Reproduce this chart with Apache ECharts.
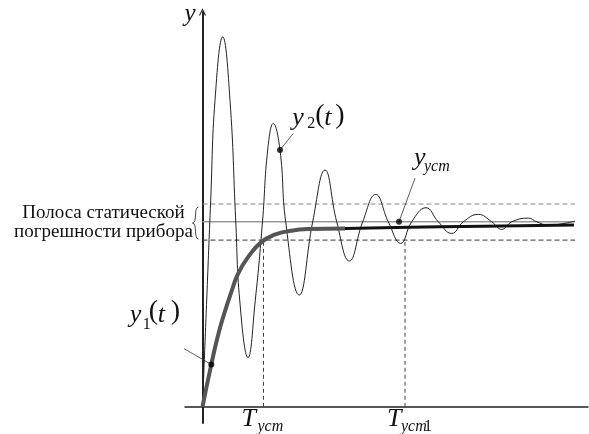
<!DOCTYPE html>
<html>
<head>
<meta charset="utf-8">
<script src="https://cdn.jsdelivr.net/npm/echarts@6/dist/echarts.min.js"></script>
<style>
  html, body { margin: 0; padding: 0; background: #fff; }
  #chart { width: 589px; height: 434px; }
</style>
</head>
<body>
<div id="chart"></div>
<script>
// y1(t) - aperiodic response (grey part, then black tail)
const y1T = [0, 0.176, 0.31, 0.444, 0.576, 0.71, 0.91, 1.176, 1.444, 1.776, 2.11, 2.85];
const y1V = [0, 0.229, 0.386, 0.512, 0.62, 0.719, 0.809, 0.89, 0.93, 0.952, 0.961, 0.964];
const y1TailT = [2.85, 4.75, 7.43];
const y1TailV = [0.964, 0.973, 0.982];

// y2(t) - damped oscillation
const y2T = [0, 0.084, 0.164, 0.25, 0.404, 0.55, 0.664, 0.744, 0.91, 1.056, 1.2, 1.304, 1.416, 1.55, 1.664,
  1.934, 2.204, 2.45, 2.684, 2.936, 3.204, 3.464, 3.716, 3.964, 4.184, 4.47, 4.716, 4.984, 5.216,
  5.516, 5.784, 5.984, 6.184, 6.516, 6.684, 6.91, 7.45];
const y2V = [0, 0.577, 1.117, 1.657, 2.0, 1.657, 1.009, 0.577, 0.266, 0.577, 1.0, 1.388, 1.532, 1.388, 1.0,
  0.604, 1.0, 1.28, 1.0, 0.788, 1.0, 1.148, 1.0, 0.883, 1.0, 1.076, 1.0, 0.937, 1.0,
  1.04, 1.0, 0.959, 1.0, 1.02, 1.0, 0.982, 1.004];

// steady value and error band
const ySteady = 1.0;
const bandTop = 1.096;
const bandBottom = 0.901;
const levelEnd = 7.45;

// settling times
const tUst = 1.22;
const tUst1 = 4.05;

// leader lines: [dot, label end]
const y1Dot = [0.176, 0.229], y1Tag = [-0.916, 0.40];
const y2Dot = [1.55, 1.388], y2Tag = [1.816, 1.478];
const ySsDot = [3.93, 1.0], ySsTag = [4.25, 1.236];

const zip = (a, b) => a.map((v, i) => [v, b[i]]);
const ital = s => 'italic ' + s + 'px "Liberation Serif"';
const roman = s => s + 'px "Liberation Serif"';

const chart = echarts.init(document.getElementById('chart'));

const thin = (data, color, width, type) => ({
    type: 'line',
    data: data,
    symbol: 'none',
    silent: true,
    clip: false,
    lineStyle: { color: color, width: width, type: type || 'solid' },
    z: 2
});

const option = {
    animation: false,
    backgroundColor: '#fff',
    grid: { left: 185, right: 1, top: 12, bottom: 11 },
    xAxis: {
        type: 'value',
        min: -0.35,
        max: 7.71,
        axisLine: { onZero: true, lineStyle: { color: '#222', width: 1.5 } },
        axisTick: { show: false },
        axisLabel: { show: false },
        splitLine: { show: false }
    },
    yAxis: {
        type: 'value',
        min: -0.0876,
        max: 2.134,
        axisLine: {
            onZero: true,
            symbol: ['none', 'path://M0,10L5,0L10,10L8.6,10.6L5,3L1.4,10.6Z'],
            symbolSize: [7, 10],
            lineStyle: { color: '#222', width: 2 }
        },
        axisTick: { show: false },
        axisLabel: { show: false },
        splitLine: { show: false }
    },
    series: [
        thin([[0, bandTop], [levelEnd, bandTop]], '#888', 1, [5, 3]),
        thin([[0, bandBottom], [levelEnd, bandBottom]], '#333', 1, [5, 3]),
        thin([[0, ySteady], [levelEnd, ySteady]], '#999', 1.6),
        thin([[tUst, 0], [tUst, bandBottom]], '#444', 1, [4, 3]),
        thin([[tUst1, 0], [tUst1, bandBottom]], '#444', 1, [4, 3]),
        {
            type: 'line', data: zip(y2T, y2V), smooth: 0.45, symbol: 'none', silent: true,
            lineStyle: { color: '#222', width: 1 }, z: 3
        },
        {
            type: 'line', data: zip(y1T, y1V), smooth: 0.5, symbol: 'none', silent: true,
            lineStyle: { color: '#555', width: 4 }, z: 4
        },
        {
            type: 'line', data: zip(y1TailT, y1TailV), smooth: 0.4, symbol: 'none', silent: true,
            lineStyle: { color: '#111', width: 3 }, z: 4
        },
        thin([y1Dot, y1Tag], '#333', 0.8),
        thin([y2Dot, y2Tag], '#333', 0.8),
        thin([ySsDot, ySsTag], '#333', 0.8),
        {
            type: 'scatter', data: [y1Dot, y2Dot, ySsDot], symbolSize: 6, silent: true,
            itemStyle: { color: '#000' }, z: 5
        }
    ]
};

chart.setOption(option);

// annotations, placed relative to points mapped by the chart's scales
const px = p => chart.convertToPixel({ gridIndex: 0 }, p);
const graphics = [];
const put = (anchor, parts) => {
    const a = px(anchor);
    parts.forEach(([text, font, dx, dy]) => {
        graphics.push({
            type: 'text', x: a[0] + dx, y: a[1] + dy, silent: true,
            style: { text: text, font: font, fill: '#111', align: 'left', verticalAlign: 'middle' }
        });
    });
};

put([0, 2.134], [['y', ital(25), -18, 2]]);
put(y2Tag, [['y', ital(26), -1, -15], ['2', roman(16), 14, -10], ['(', roman(28), 22, -18],
    ['t', ital(26), 31, -15], [')', roman(28), 42, -18]]);
put(y1Tag, [['y', ital(26), -27, -18], ['1', roman(16), -14, -8], ['(', roman(28), -8, -21],
    ['t', ital(26), 1, -18], [')', roman(28), 14, -21]]);
put(ySsTag, [['y', ital(26), -1, -20], ['уст', ital(16), 9, -11]]);
put([tUst, 0], [['T', ital(26), -22, 12], ['уст', ital(16), -6, 20]]);
put([tUst1, 0], [['T', ital(26), -18, 12], ['уст', ital(16), -4, 20], ['1', roman(16), 19, 20]]);

// band caption with brace
const mid = px([0, ySteady]);
graphics.push({
    type: 'text', x: mid[0] - 99, y: mid[1] + 1, silent: true,
    style: {
        text: 'Полоса статической\nпогрешности прибора', font: roman(19), lineHeight: 19,
        fill: '#111', align: 'center', verticalAlign: 'middle'
    }
});
const bTop = px([0, bandTop]), bBot = px([0, bandBottom]);
const bx = bTop[0] - 10, by = bTop[1] + 3, h = bBot[1] - bTop[1] - 4;
graphics.push({
    type: 'bezierCurve', silent: true,
    shape: { x1: bx + 6, y1: by, cpx1: bx + 1, cpy1: by, cpx2: bx + 5, cpy2: by + h / 2, x2: bx, y2: by + h / 2 },
    style: { fill: 'none', stroke: '#444', lineWidth: 1 }
});
graphics.push({
    type: 'bezierCurve', silent: true,
    shape: { x1: bx, y1: by + h / 2, cpx1: bx + 5, cpy1: by + h / 2, cpx2: bx + 1, cpy2: by + h, x2: bx + 6, y2: by + h },
    style: { fill: 'none', stroke: '#444', lineWidth: 1 }
});

chart.setOption({ graphic: graphics });

window.addEventListener('resize', () => chart.resize());
</script>
</body>
</html>
